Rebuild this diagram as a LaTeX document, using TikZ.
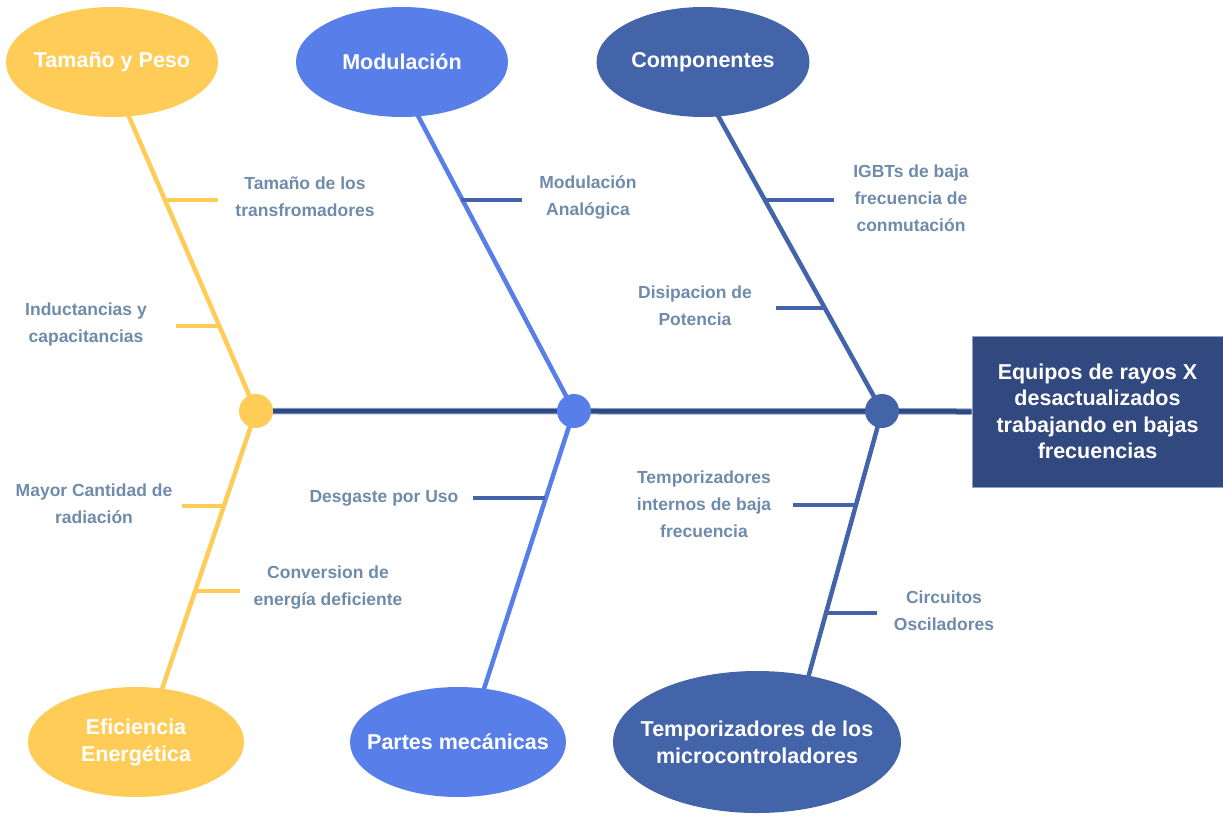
\documentclass[tikz,border=0pt]{standalone}
\usepackage{fontspec}
\setmainfont{Liberation Sans}
\usetikzlibrary{shapes.geometric}
\pgfdeclarelayer{bg}
\pgfsetlayers{bg,main}
\definecolor{yel}{HTML}{FFCC58}
\definecolor{mblue}{HTML}{587EE9}
\definecolor{dblue}{HTML}{4464A9}
\definecolor{spinec}{HTML}{2F4A82}
\definecolor{spineedge}{HTML}{8FA0C4}
\definecolor{boxc}{HTML}{32497F}
\definecolor{lab}{HTML}{6F8BAB}
\tikzset{
  cause/.style={ellipse, inner sep=0pt, minimum width=212, minimum height=110},
  title/.style={text=white, align=center, font=\bfseries\fontsize{21.5}{27}\selectfont},
  joint/.style={circle, inner sep=0pt, minimum size=34},
  lbl/.style={text=lab, align=center, font=\bfseries\fontsize{17.5}{27}\selectfont},
  bone/.style={line width=4.5pt},
}
\begin{document}
\begin{tikzpicture}[x=1pt,y=-1pt]
\path[use as bounding box] (0,0) rectangle (1223,815);

% effect box
\node[fill=boxc, draw=spineedge, line width=0.6pt, minimum width=251, minimum height=151, inner sep=0pt, text=white, align=center,
  font=\bfseries\fontsize{21.5}{26.5}\selectfont] (effect) at (1097.5,411.5)
  {Equipos de rayos X\\desactualizados\\trabajando en bajas\\frecuencias};

% joints
\node[joint, fill=yel] (cy) at (256,411) {};
\node[joint, fill=mblue] (cm) at (574,411) {};
\node[joint, fill=dblue] (cd) at (882,411) {};

% cause ellipses
\node[cause, fill=yel, label={[title]center:Tamaño y Peso}] (tp) at (112,62) {};
\node[cause, fill=mblue, label={[title]center:Modulación}] (mo) at (402,62) {};
\node[cause, fill=dblue, minimum width=213, label={[title]center:Componentes}] (co) at (703,62) {};
\node[cause, fill=yel, minimum width=216, label={[title]center:Eficiencia\\Energética}] (ef) at (136,742) {};
\node[cause, fill=mblue, minimum width=216, label={[title]center:Partes mecánicas}] (pm) at (458,742) {};
\node[cause, fill=dblue, minimum width=288, minimum height=142, label={[title]center:Temporizadores de los\\microcontroladores}] (tm) at (757,742) {};

% bone end coordinates
\coordinate (tpE) at (127,112);
\coordinate (efE) at (160,695);
\coordinate (moE) at (416,112);
\coordinate (pmE) at (482,695);
\coordinate (coE) at (716,112);
\coordinate (tmE) at (808,678);

% labels
\node[lbl] (l1) at (305,197) {Tamaño de los\\transfromadores};
\node[lbl] (l2) at (86,324) {Inductancias y\\capacitancias};
\node[lbl] (l3) at (94,504) {Mayor Cantidad de\\radiación};
\node[lbl] (l4) at (328,588) {Conversion de\\energía deficiente};
\node[lbl] (l5) at (588,197) {Modulación\\Analógica};
\node[lbl] (l6) at (384,498) {Desgaste por Uso};
\node[lbl] (l7) at (911,198) {IGBTs de baja\\frecuencia de\\conmutación};
\node[lbl] (l8) at (695,306) {Disipacion de\\Potencia};
\node[lbl] (l9) at (704,504) {Temporizadores\\internos de baja\\frecuencia};
\node[lbl] (l10) at (944,611) {Circuitos\\Osciladores};

% sub-bone coordinates
\coordinate (a1) at (163,200); \coordinate (b1) at (218,200);
\coordinate (a2) at (219,326); \coordinate (b2) at (176,326);
\coordinate (a3) at (223,506); \coordinate (b3) at (182,506);
\coordinate (a4) at (194,591); \coordinate (b4) at (240,591);
\coordinate (a5) at (461,200); \coordinate (b5) at (522,200);
\coordinate (a6) at (545,498); \coordinate (b6) at (473,498);
\coordinate (a7) at (763,200); \coordinate (b7) at (834,200);
\coordinate (a8) at (824,308); \coordinate (b8) at (776,308);
\coordinate (a9) at (855,505); \coordinate (b9) at (793,505);
\coordinate (a10) at (825,613); \coordinate (b10) at (877,613);

\begin{pgfonlayer}{bg}
  % spine
  \draw[spineedge, line width=6.5pt] (cy.center) -- (effect.west);
  \draw[spinec, line width=4.5pt] (cy.center) -- (effect.west);
  % main bones
  \draw[bone, yel] (cy.center) -- (tpE);
  \draw[bone, yel] (cy.center) -- (efE);
  \draw[bone, mblue] (cm.center) -- (moE);
  \draw[bone, mblue] (cm.center) -- (pmE);
  \draw[bone, dblue] (cd.center) -- (coE);
  \draw[bone, dblue] (cd.center) -- (tmE);
  % sub-bones
  \draw[bone, yel] (a1) -- (b1);
  \draw[bone, yel] (a2) -- (b2);
  \draw[bone, yel] (a3) -- (b3);
  \draw[bone, yel] (a4) -- (b4);
  \draw[bone, dblue] (a5) -- (b5);
  \draw[bone, dblue] (a6) -- (b6);
  \draw[bone, dblue] (a7) -- (b7);
  \draw[bone, dblue] (a8) -- (b8);
  \draw[bone, dblue] (a9) -- (b9);
  \draw[bone, dblue] (a10) -- (b10);
\end{pgfonlayer}
\end{tikzpicture}
\end{document}
